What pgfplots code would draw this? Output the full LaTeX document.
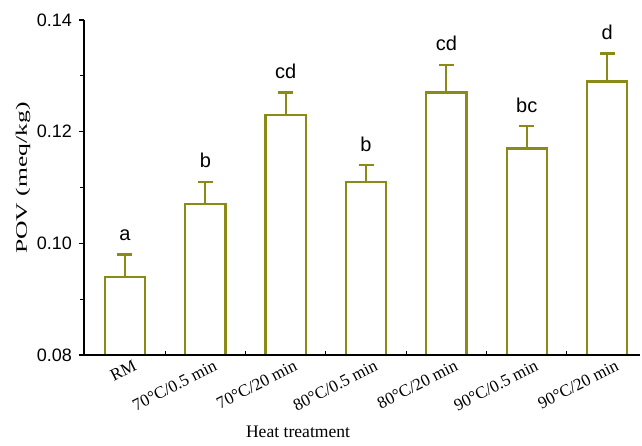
\documentclass[border=0pt]{standalone}
\usepackage{pgfplots}
\pgfplotsset{compat=1.18}
\usepackage{fontspec}
\setmainfont{Liberation Serif}
\newfontfamily\arial{Liberation Sans}
\definecolor{olivebar}{RGB}{138,138,22}

\pgfplotstableread{
x y err
0 0.094 0.004
1 0.107 0.004
2 0.123 0.004
3 0.111 0.003
4 0.127 0.005
5 0.117 0.004
6 0.129 0.005
}\povdata

\begin{document}
\begin{tikzpicture}
\begin{axis}[
  scale only axis,
  width=278pt, height=167.5pt,
  xmin=-0.51, xmax=6.41,
  ymin=0.08, ymax=0.14,
  axis x line*=bottom, axis y line*=left,
  axis line style={black, line width=0.6pt},
  axis on top,
  clip=false,
  xtick={0,...,6},
  xticklabels={RM, 70°C/0.5 min, 70°C/20 min, 80°C/0.5 min, 80°C/20 min, 90°C/0.5 min, 90°C/20 min},
  major x tick style={draw=none},
  minor xtick={0.5,1.5,...,5.5},
  xtick align=inside,
  ytick={0.08,0.10,0.12,0.14},
  minor ytick={0.09,0.11,0.13},
  ytick align=outside,
  major tick length=2.5pt, minor tick length=2pt,
  tick style={black, line width=0.6pt},
  yticklabel style={font=\arial\fontsize{9}{11}\selectfont,
    /pgf/number format/.cd, fixed, fixed zerofill, precision=2, assume math mode=true},
  xticklabel style={rotate=27, anchor=north east, inner sep=0pt, xshift=2.5pt, yshift=-3.5pt,
    font=\fontsize{8.5}{10}\selectfont},
  xlabel={Heat treatment},
  xlabel style={at={(axis description cs:0.385,-0.2299)}, anchor=center, font=\fontsize{8.8}{10}\selectfont},
  ylabel={\scalebox{1.6}[1]{POV (meq/kg)}},
  ylabel style={at={(axis description cs:-0.1097,0.528)}, anchor=center, font=\fontsize{8}{9}\selectfont},
]
\addplot[ybar, bar width=0.5, bar shift=0pt, draw=olivebar, fill=white, line width=1.1pt,
  error bars/.cd, y dir=plus, y explicit,
  error bar style={olivebar, line width=1.1pt},
  error mark options={olivebar, rotate=90, mark size=3.75pt, line width=1.1pt}]
  table[x=x, y=y, y error=err] {\povdata};
\addplot[only marks, mark=none, nodes near coords, point meta=explicit symbolic,
  every node near coord/.style={anchor=base, yshift=7pt, inner sep=0pt, font=\arial\fontsize{10}{12}\selectfont, text=black}]
  coordinates {(0,0.098)[a] (1,0.111)[b] (2,0.127)[cd] (3,0.114)[b] (4,0.132)[cd] (5,0.121)[bc] (6,0.134)[d]};
\end{axis}
\pgfresetboundingbox
\path (-42pt,-45pt) rectangle (279pt,177.5pt);
\end{tikzpicture}
\end{document}
